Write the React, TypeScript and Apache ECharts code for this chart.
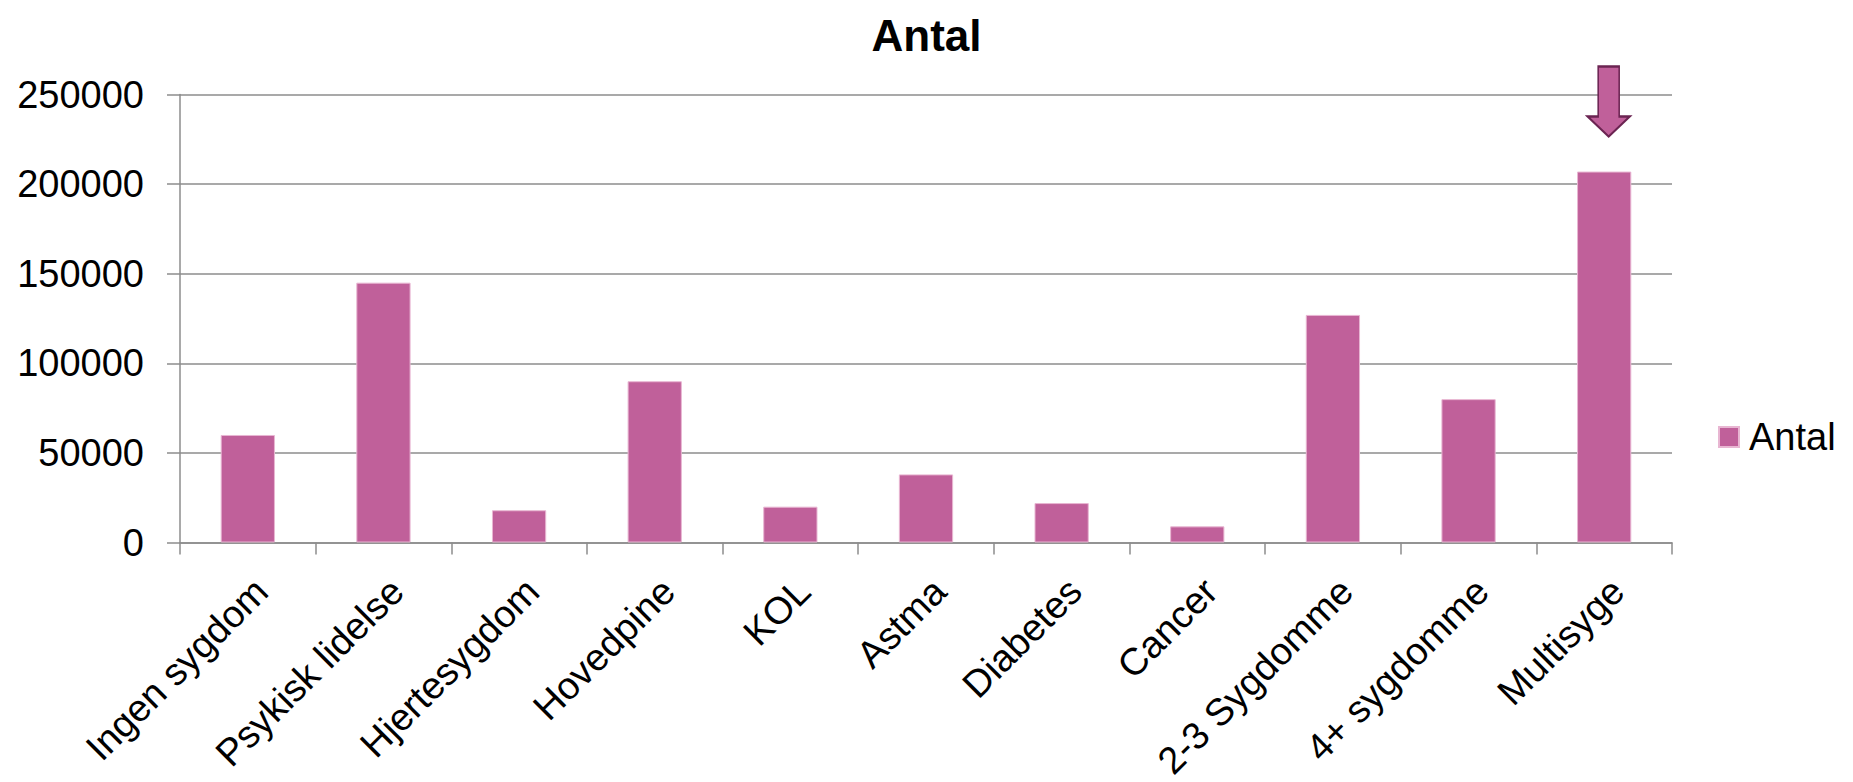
import React, { useEffect, useRef } from "react";
import * as echarts from "echarts";

const categories = [
  "Ingen sygdom",
  "Psykisk lidelse",
  "Hjertesygdom",
  "Hovedpine",
  "KOL",
  "Astma",
  "Diabetes",
  "Cancer",
  "2-3 Sygdomme",
  "4+ sygdomme",
  "Multisyge",
];
const antalValues = [60000, 145000, 18000, 90000, 20000, 38000, 22000, 9000, 127000, 80000, 207000];
const yTicks = [0, 50000, 100000, 150000, 200000, 250000];
const seriesName = "Antal";
const titleText = "Antal";

const FONT = "'Liberation Sans', Arial, Helvetica, sans-serif";
const BAR = "#C0609A";
const GRID_GRAY = "#8c8c8c";
const ARROW_PATH = "path://M10.5,0 L31.5,0 L31.5,50 L42,50 L21,70 L0,50 L10.5,50 Z";

export default function App() {
  const ref = useRef<HTMLDivElement>(null);
  useEffect(() => {
    if (!ref.current) return;
    const chart = echarts.init(ref.current, null, { renderer: "svg" });
    const lastIdx = categories.length - 1;
    chart.setOption({
      animation: false,
      backgroundColor: "#ffffff",
      textStyle: { fontFamily: FONT },
      title: {
        text: titleText,
        left: "center",
        top: 8,
        textStyle: { fontFamily: FONT, fontSize: 44, fontWeight: "bold", color: "#000" },
      },
      legend: {
        data: [seriesName],
        left: 1713,
        top: 413,
        icon: "rect",
        itemWidth: 20,
        itemHeight: 20,
        textStyle: { fontFamily: FONT, fontSize: 38, color: "#000", padding: [0, 0, 0, 5] },
      },
      grid: {
        left: 180,
        right: 181,
        top: 94.5,
        bottom: 239.5,
        containLabel: false,
        outerBoundsMode: "none",
      },
      xAxis: {
        type: "category",
        data: categories,
        boundaryGap: true,
        axisLine: { show: true, lineStyle: { color: GRID_GRAY, width: 1.5 } },
        axisTick: { show: true, length: 12, lineStyle: { color: GRID_GRAY, width: 1.5 } },
        axisLabel: {
          rotate: 45,
          interval: 0,
          margin: 29,
          verticalAlign: "top",
          align: "right",
          fontFamily: FONT,
          fontSize: 38,
          color: "#000",
          hideOverlap: false,
        },
      },
      yAxis: {
        type: "value",
        min: yTicks[0],
        max: yTicks[yTicks.length - 1],
        interval: yTicks[1] - yTicks[0],
        axisLine: { show: true, lineStyle: { color: GRID_GRAY, width: 1.5 } },
        axisTick: { show: true, length: 13, lineStyle: { color: GRID_GRAY, width: 1.5 } },
        splitLine: { show: true, lineStyle: { color: GRID_GRAY, width: 1.5 } },
        axisLabel: {
          margin: 36,
          fontFamily: FONT,
          fontSize: 38,
          color: "#000",
          formatter: (v: number) => String(v),
        },
      },
      series: [
        {
          name: seriesName,
          type: "bar",
          data: antalValues,
          barWidth: "40%",
          itemStyle: { color: BAR, borderColor: "#e8b6d2", borderWidth: 1 },
          markPoint: {
            silent: true,
            label: { show: false },
            symbol: ARROW_PATH,
            symbolSize: [42, 70],
            itemStyle: { color: BAR, borderColor: "#6b2452", borderWidth: 2 },
            data: [
              {
                name: "arrow",
                coord: [categories[lastIdx], antalValues[lastIdx]],
                symbol: ARROW_PATH,
                symbolSize: [42, 70],
                symbolOffset: [4.5, -70],
              },
            ],
          },
        },
      ],
    });
    return () => chart.dispose();
  }, []);
  return (
    <div
      ref={ref}
      style={{ position: "absolute", left: 0, top: 0, width: 1853, height: 782 }}
    />
  );
}
